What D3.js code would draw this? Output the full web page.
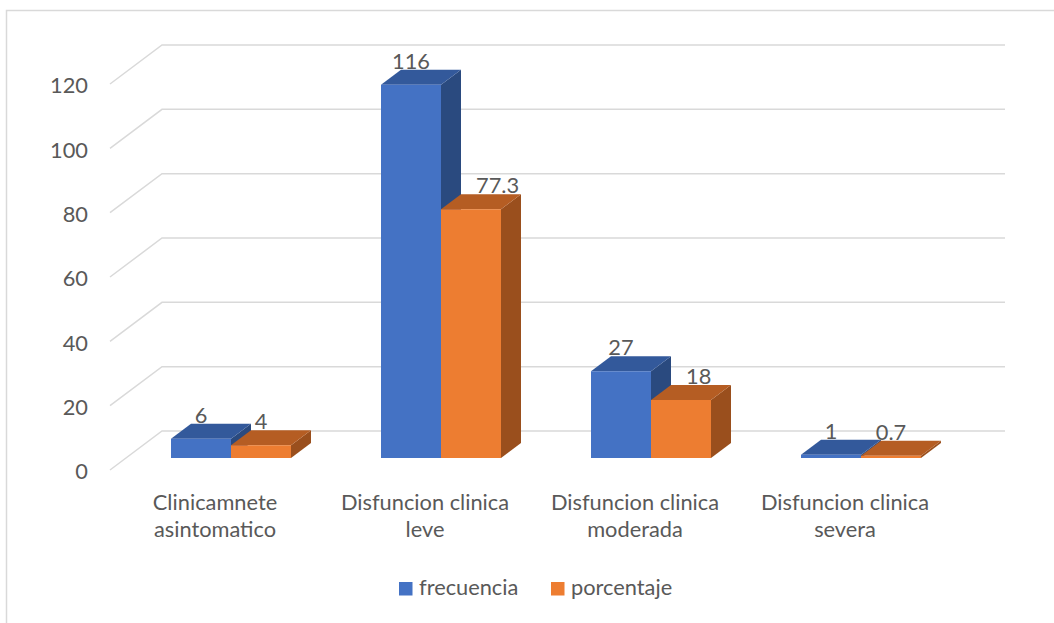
<!DOCTYPE html>
<html>
<head>
<meta charset="utf-8">
<script src="https://cdn.jsdelivr.net/npm/d3@7"></script>
<style>
  html, body { margin: 0; padding: 0; background: #fff; }
  svg { display: block; }
  text { font-family: Lato, "Open Sans", sans-serif; fill: #595959; }
</style>
</head>
<body>
<svg id="chart" width="1054" height="623"></svg>
<script>
// Chart data
const categories = [
  "Clinicamnete asintomatico",
  "Disfuncion clinica leve",
  "Disfuncion clinica moderada",
  "Disfuncion clinica severa"
];
const seriesNames = ["frecuencia", "porcentaje"];
const frecuencia = [6, 116, 27, 1];
const porcentaje = [4, 77.3, 18, 0.7];
const yTicks = [0, 20, 40, 60, 80, 100, 120];

const seriesValues = [frecuencia, porcentaje];
const palette = {
  frecuencia: { front: "#4472C4", top: "#33599B", side: "#2A4A7F" },
  porcentaje: { front: "#ED7D31", top: "#B55D23", side: "#9A4F1D" }
};

const svg = d3.select("#chart");
const W = 1054, H = 623;
const fontSize = 21.8;

// Chart frame
svg.append("path")
  .attr("d", `M6.5,${H} L6.5,10.5 L${W},10.5`)
  .attr("fill", "none").attr("stroke", "#D9D9D9").attr("stroke-width", 1.5);

// Plot geometry (front plane) and depth projection
const left = 110, right = 950;
const depthX = 52, depthY = -39;          // full floor depth vector
const barZ0 = 16 / 52, barZ1 = 36 / 52;    // bar front/back depth fraction

const y = d3.scaleLinear().domain([0, 120]).range([470, 84]);
const x0 = d3.scaleBand().domain(categories).range([left, right]);
const x1 = d3.scaleBand().domain(seriesNames).range([45, 165]);

const proj = (px, v, z) => [px + z * depthX, y(v) + z * depthY];

// Gridlines: side wall diagonal + back wall horizontal
const grid = svg.append("g");
yTicks.forEach(t => {
  const p0 = proj(left, t, 0), p1 = proj(left, t, 1), p2 = proj(right + 3, t, 1);
  grid.append("path")
    .attr("d", `M${p0[0]},${p0[1]} L${p1[0]},${p1[1]} L${p2[0]},${p2[1]}`)
    .attr("fill", "none").attr("stroke", "#D9D9D9").attr("stroke-width", 1.5);
});

// Value axis labels
const yAxis = svg.append("g")
  .attr("transform", "translate(88,2)")
  .call(d3.axisLeft(y).tickValues(yTicks).tickSize(0).tickPadding(0));
yAxis.select(".domain").remove();
yAxis.selectAll("text")
  .attr("font-family", "Lato, 'Open Sans', sans-serif")
  .attr("font-size", fontSize).attr("fill", "#595959");

// 3D bars
const bars = svg.append("g");
const labels = svg.append("g");
const poly = pts => "M" + pts.map(p => p.join(",")).join(" L") + " Z";

categories.forEach((cat, ci) => {
  seriesNames.forEach((s, si) => {
    const v = seriesValues[si][ci];
    const xl = x0(cat) + x1(s), xr = xl + x1.bandwidth();
    const fbl = proj(xl, 0, barZ0), fbr = proj(xr, 0, barZ0);
    const ftl = proj(xl, v, barZ0), ftr = proj(xr, v, barZ0);
    const btl = proj(xl, v, barZ1), btr = proj(xr, v, barZ1);
    const bbr = proj(xr, 0, barZ1);
    const c = palette[s];
    bars.append("path").attr("d", poly([ftr, btr, bbr, fbr])).attr("fill", c.side);
    bars.append("path").attr("d", poly([ftl, btl, btr, ftr])).attr("fill", c.top);
    bars.append("path").attr("d", poly([fbl, ftl, ftr, fbr])).attr("fill", c.front);
  });
});

// Data labels above each bar
categories.forEach((cat, ci) => {
  seriesNames.forEach((s, si) => {
    const v = seriesValues[si][ci];
    const xl = x0(cat) + x1(s), xr = xl + x1.bandwidth();
    const ftl = proj(xl, v, barZ0), btl = proj(xl, v, barZ1);
    const cx = (ftl[0] + proj(xr, v, barZ0)[0]) / 2;
    const base = btl[1] - 1;
    const t = labels.append("text")
      .attr("x", cx).attr("y", base)
      .attr("text-anchor", "middle")
      .attr("font-size", fontSize)
      .text(String(v));
    // keep the label clear of a taller neighbouring bar on the left
    if (si > 0) {
      const pv = seriesValues[si - 1][ci];
      const pxr = x0(cat) + x1(seriesNames[si - 1]) + x1.bandwidth();
      const sideRight = proj(pxr, pv, barZ1)[0];
      const prevTop = proj(pxr, pv, barZ1)[1];
      const w = t.node().getComputedTextLength();
      if (prevTop < base - fontSize * 0.7 && cx - w / 2 < sideRight + 15) {
        t.attr("x", sideRight + 15 + w / 2);
      }
    }
  });
});

// Category labels, wrapped onto two lines
const cats = svg.append("g");
categories.forEach(cat => {
  const words = cat.split(" ");
  const lines = [words.slice(0, -1).join(" "), words[words.length - 1]];
  const cx = x0(cat) + x0.bandwidth() / 2;
  lines.forEach((ln, i) => {
    cats.append("text")
      .attr("x", cx).attr("y", 510 + i * 27)
      .attr("text-anchor", "middle")
      .attr("font-size", fontSize)
      .text(ln);
  });
});

// Legend
const legend = svg.append("g");
const legendItems = [
  { name: "frecuencia", x: 399 },
  { name: "porcentaje", x: 551 }
];
legendItems.forEach(d => {
  legend.append("rect")
    .attr("x", d.x).attr("y", 582).attr("width", 13.5).attr("height", 13.5)
    .attr("fill", palette[d.name].front);
  legend.append("text")
    .attr("x", d.x + 20).attr("y", 595)
    .attr("font-size", fontSize)
    .text(d.name);
});
</script>
</body>
</html>
